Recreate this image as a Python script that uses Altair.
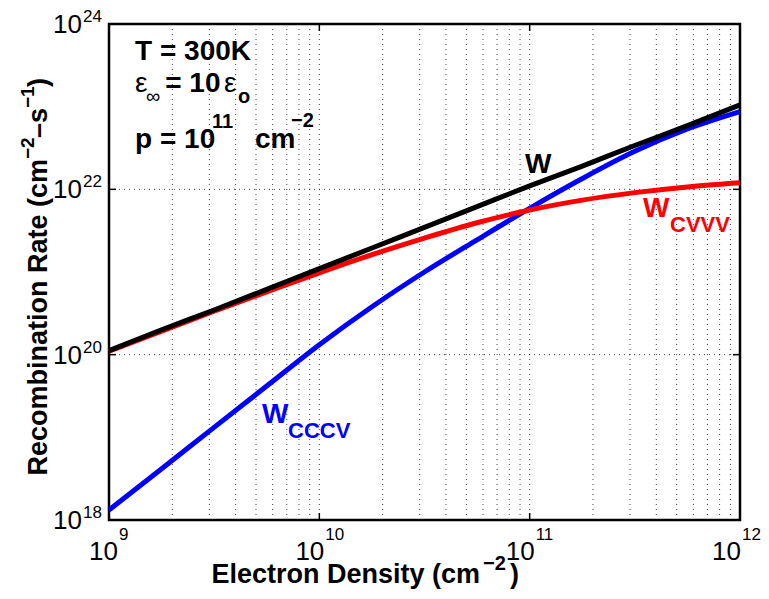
import altair as alt
import pandas as pd

FONT = "Liberation Sans"

# ---- data ----
density = [1e9, 1.78e9, 3.16e9, 5.62e9, 1e10, 1.78e10, 3.16e10, 5.62e10,
           1e11, 1.78e11, 3.16e11, 5.62e11, 1e12]
w_total = [1.12e20, 2.0e20, 3.47e20, 6.17e20, 1.10e21, 1.95e21, 3.47e21, 6.17e21,
           1.10e22, 1.91e22, 3.39e22, 5.89e22, 1.05e23]
w_cvvv = [1.10e20, 1.93e20, 3.35e20, 5.75e20, 9.77e20, 1.62e21, 2.57e21, 3.94e21,
          5.62e21, 7.41e21, 9.12e21, 1.07e22, 1.20e22]
w_cccv = [1.32e18, 4.17e18, 1.32e19, 4.17e19, 1.32e20, 3.80e20, 1.00e21, 2.45e21,
          5.89e21, 1.35e22, 2.88e22, 5.37e22, 8.71e22]

x_major = [1e9, 1e10, 1e11, 1e12]
x_exp = ["9", "10", "11", "12"]
y_major = [1e18, 1e20, 1e22, 1e24]
y_exp = ["18", "20", "22", "24"]
x_grid = [2e9, 3e9, 4e9, 5e9, 6e9, 7e9, 8e9, 9e9, 1e10,
          2e10, 3e10, 4e10, 5e10, 6e10, 7e10, 8e10, 9e10, 1e11,
          2e11, 3e11, 4e11, 5e11, 6e11, 7e11, 8e11, 9e11]
y_grid = [1e20, 1e22]

# annotation pieces: text, x, y (data coords), size, color
ann_bold_text = ["T = 300K", "= 10", "o", "p = 10", "11", "cm", "\u22122",
                 "W", "W", "CVVV", "W", "CCCV"]
ann_bold_x = [1.33e9, 1.85e9, 4.10e9, 1.33e9, 3.09e9, 4.94e9, 7.33e9,
              9.51e10, 3.46e11, 4.65e11, 5.34e9, 7.10e9]
ann_bold_y = [3.67e23, 1.50e23, 1.11e23, 3.16e22, 5.52e22, 3.16e22, 5.68e22,
              1.58e22, 4.62e21, 3.05e21, 1.49e19, 9.82e18]
ann_bold_size = [28, 28, 20, 28, 20, 28, 20, 28, 28, 22, 28, 22]
ann_bold_color = ["black"] * 7 + ["black", "red", "red", "blue", "blue"]

ann_reg_text = ["\u03b5", "\u221e", "\u03b5"]
ann_reg_x = [1.33e9, 1.50e9, 3.52e9]
ann_reg_y = [1.50e23, 1.11e23, 1.50e23]
ann_reg_size = [28, 20, 28]

W, H = 631, 496
X = alt.Scale(type="log", domain=[1e9, 1e12], nice=False)
Y = alt.Scale(type="log", domain=[1e18, 1e24], nice=False)

def line(vals, color):
    df = pd.DataFrame({"n": density, "r": vals})
    return alt.Chart(df).mark_line(color=color, strokeWidth=5, interpolate="monotone",
                                   strokeCap="butt").encode(
        x=alt.X("n:Q", scale=X, axis=None),
        y=alt.Y("r:Q", scale=Y, axis=None))

grid_style = dict(color="#000000", strokeWidth=1, strokeDash=[1, 4], opacity=0.75)
vgrid = alt.Chart(pd.DataFrame({"n": x_grid})).mark_rule(**grid_style).encode(
    x=alt.X("n:Q", scale=X, axis=None), y=alt.value(0), y2=alt.value(H))
hgrid = alt.Chart(pd.DataFrame({"r": y_grid})).mark_rule(**grid_style).encode(
    y=alt.Y("r:Q", scale=Y, axis=None), x=alt.value(0), x2=alt.value(W))

tick_style = dict(color="black", strokeWidth=1.5)
xt = pd.DataFrame({"n": x_major[1:3]})
yt = pd.DataFrame({"r": y_major[1:3]})
ticks = [
    alt.Chart(xt).mark_rule(**tick_style).encode(
        x=alt.X("n:Q", scale=X, axis=None), y=alt.value(H), y2=alt.value(H - 7)),
    alt.Chart(xt).mark_rule(**tick_style).encode(
        x=alt.X("n:Q", scale=X, axis=None), y=alt.value(0), y2=alt.value(7)),
    alt.Chart(yt).mark_rule(**tick_style).encode(
        y=alt.Y("r:Q", scale=Y, axis=None), x=alt.value(0), x2=alt.value(7)),
    alt.Chart(yt).mark_rule(**tick_style).encode(
        y=alt.Y("r:Q", scale=Y, axis=None), x=alt.value(W), x2=alt.value(W - 7)),
]

# tick labels (10 with superscript exponent)
xl1 = pd.DataFrame({"n": x_major[:1], "e": x_exp[:1]})
xl2 = pd.DataFrame({"n": x_major[1:3], "e": x_exp[1:3]})
xl3 = pd.DataFrame({"n": x_major[3:], "e": x_exp[3:]})
def xlabels(df, shift):
    base = alt.Chart(df).mark_text(text="10", align="right", baseline="alphabetic",
                                   font=FONT, fontSize=26, dx=shift, color="black").encode(
        x=alt.X("n:Q", scale=X, axis=None), y=alt.value(536))
    sup = alt.Chart(df).mark_text(align="left", baseline="alphabetic", font=FONT,
                                  fontSize=17, dx=shift + 1, color="black").encode(
        x=alt.X("n:Q", scale=X, axis=None), y=alt.value(516), text="e:N")
    return [base, sup]

yl = pd.DataFrame({"r": y_major, "e": y_exp})
ybase = alt.Chart(yl).mark_text(text="10", align="right", baseline="alphabetic",
                                font=FONT, fontSize=26, dy=9, color="black").encode(
    y=alt.Y("r:Q", scale=Y, axis=None), x=alt.value(-27))
ysup = alt.Chart(yl).mark_text(align="left", baseline="alphabetic", font=FONT,
                               fontSize=17, dy=-2, color="black").encode(
    y=alt.Y("r:Q", scale=Y, axis=None), x=alt.value(-26), text="e:N")

# axis titles built from pieces (for superscripts)
def piece(txt, x, y, size, align="left", angle=0):
    return alt.Chart(pd.DataFrame({"t": [txt]})).mark_text(
        align=align, baseline="alphabetic", font=FONT, fontSize=size,
        fontWeight="bold", angle=angle, color="black").encode(
        x=alt.value(x), y=alt.value(y), text="t:N")

xtitle = [
    piece("Electron Density (cm", 371, 559, 27, align="right"),
    piece("\u22122", 374, 546, 20),
    piece(")", 401, 559, 27),
]
ytitle = [
    piece("Recombination Rate (cm", -62, 135, 27, align="right", angle=270),
    piece("\u22122", -75, 135, 19, angle=270),
    piece("\u2013s", -62, 114, 27, angle=270),
    piece("\u22121", -75, 84, 19, angle=270),
    piece(")", -62, 63, 27, angle=270),
]

annb = pd.DataFrame({"t": ann_bold_text, "x": ann_bold_x, "y": ann_bold_y,
                     "s": ann_bold_size, "c": ann_bold_color})
annr = pd.DataFrame({"t": ann_reg_text, "x": ann_reg_x, "y": ann_reg_y, "s": ann_reg_size})
ann_bold = alt.Chart(annb).mark_text(align="left", baseline="alphabetic", font=FONT,
                                     fontWeight="bold").encode(
    x=alt.X("x:Q", scale=X, axis=None), y=alt.Y("y:Q", scale=Y, axis=None),
    text="t:N", size=alt.Size("s:Q", scale=None, legend=None),
    color=alt.Color("c:N", scale=None, legend=None))
ann_reg = alt.Chart(annr).mark_text(align="left", baseline="alphabetic", font=FONT,
                                    color="black").encode(
    x=alt.X("x:Q", scale=X, axis=None), y=alt.Y("y:Q", scale=Y, axis=None),
    text="t:N", size=alt.Size("s:Q", scale=None, legend=None))

layers = [vgrid, hgrid] + ticks + [line(w_cccv, "#0000ff"), line(w_cvvv, "#ff0000"),
                                    line(w_total, "#000000")]
layers += xlabels(xl1, 9) + xlabels(xl2, 5) + xlabels(xl3, 1) + [ybase, ysup] + xtitle + ytitle
layers += [ann_bold, ann_reg]

chart = alt.layer(*layers).properties(
    width=W, height=H,
    autosize=alt.AutoSizeParams(type="none"),
    padding={"left": 101, "top": 16, "right": 21, "bottom": 70},
).configure_view(stroke="black", strokeWidth=2.5)

chart.save("out.html", embed_options={"renderer": "svg", "actions": False})
